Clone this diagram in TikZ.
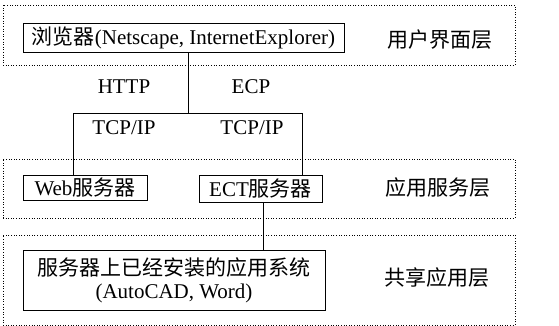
\documentclass[tikz,border=0pt]{standalone}
\usepackage{fontspec}
\setmainfont{Liberation Serif}
\newfontfamily\cjk{Noto Sans CJK SC}
\begin{document}
\begin{tikzpicture}[x=1pt,y=-1pt,
  layer/.style={draw, dash pattern=on 1pt off 1.6pt, line width=0.8pt, inner sep=0pt},
  box/.style={draw, line width=0.9pt, inner sep=0pt, font=\fontsize{21}{24}\selectfont},
  lbl/.style={font=\fontsize{21}{24}\selectfont, inner sep=0pt},
  conn/.style={line width=0.9pt}]
\useasboundingbox (0,0) rectangle (559,326);
% layers
\node[layer, minimum width=512, minimum height=60] (L1) at (259,35) {};
\node[layer, minimum width=512, minimum height=59] (L2) at (259,188.5) {};
\node[layer, minimum width=512, minimum height=90] (L3) at (259,280) {};
% boxes
\node[box, minimum width=321, minimum height=29, fill=white] (browser) at (183.5,37.5) {{\cjk 浏览器}(Netscape, InternetExplorer)};
\node[box, minimum width=124, minimum height=25, fill=white] (web) at (85,187.5) {Web{\cjk 服务器}};
\node[box, minimum width=123, minimum height=27, fill=white] (ect) at (260.5,188.5) {ECT{\cjk 服务器}};
\node[box, minimum width=302, minimum height=60, fill=white, align=center] (app) at (174,280) {{\cjk 服务器上已经安装的应用系统}\\[-1pt](AutoCAD, Word)};
% layer labels
\node[lbl] (t1) at (440,40) {\cjk 用户界面层};
\node[lbl] (t2) at (438,188) {\cjk 应用服务层};
\node[lbl] (t3) at (437,278) {\cjk 共享应用层};
% protocol labels
\node[lbl] (http) at (124,87) {HTTP};
\node[lbl] (ecp) at (251,87) {ECP};
\node[lbl] (tcp1) at (124,128) {TCP/IP};
\node[lbl] (tcp2) at (252,128) {TCP/IP};
% connectors
\coordinate (jn) at (188,113);
\coordinate (jl) at (73,113);
\coordinate (jr) at (302,113);
\coordinate (je) at (263,250);
\draw[conn] (browser.south -| jn) -- (jn);
\draw[conn] (web.north -| jl) -- (jl) -- (jr) -- (ect.north -| jr);
\draw[conn] (ect.south -| je) -- (app.north -| je);
\end{tikzpicture}
\end{document}
